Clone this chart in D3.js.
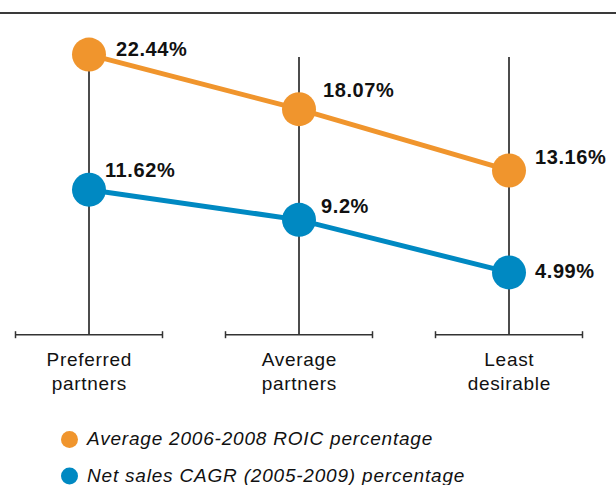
<!DOCTYPE html>
<html>
<head>
<meta charset="utf-8">
<script src="https://cdn.jsdelivr.net/npm/d3@7/dist/d3.min.js"></script>
<style>
  html, body { margin: 0; padding: 0; background: #fff; }
  svg { display: block; font-family: "Liberation Sans", Arial, Helvetica, sans-serif; }
</style>
</head>
<body>
<svg id="chart" width="616" height="485"></svg>
<script>
// ---- data ----
const categories = [["Preferred", "partners"], ["Average", "partners"], ["Least", "desirable"]];
const categoryKeys = ["Preferred partners", "Average partners", "Least desirable"];
const roicValues = [22.44, 18.07, 13.16];
const roicLabels = ["22.44%", "18.07%", "13.16%"];
const salesValues = [11.62, 9.2, 4.99];
const salesLabels = ["11.62%", "9.2%", "4.99%"];
const seriesNames = ["Average 2006-2008 ROIC percentage", "Net sales CAGR (2005-2009) percentage"];
const seriesColors = ["#F0952D", "#0089C2"];

// ---- layout (label offsets from dot centre) ----
const roicLabelOffsets = [[27, 1], [24, -12], [26, -6]];
const salesLabelOffsets = [[16, -13], [22, -7], [26, 6]];

const svg = d3.select("#chart");
const W = 616;

const x = d3.scalePoint().domain(categoryKeys).range([-16, 614]).padding(0.5);
const y = d3.scaleLinear().domain([0, 25]).range([334.7, 22.65]);
const step = x.step();
const baseY = y(0);
const plotTop = 57;

// top rule
svg.append("line").attr("x1", 0).attr("x2", W).attr("y1", 13).attr("y2", 13)
  .attr("stroke", "#3a3a3a").attr("stroke-width", 2);

// vertical category lines
svg.append("g").selectAll("line").data(categoryKeys).join("line")
  .attr("x1", d => x(d)).attr("x2", d => x(d))
  .attr("y1", plotTop).attr("y2", baseY)
  .attr("stroke", "#111").attr("stroke-width", 1.5);

// axis segments
const axisG = svg.append("g");
categoryKeys.forEach((k, i) => {
  const cx = x(k), hw = step * 0.35;
  axisG.append("line").attr("x1", cx - hw).attr("x2", cx + hw).attr("y1", baseY).attr("y2", baseY)
    .attr("stroke", "#333").attr("stroke-width", 1.5);
  [cx - hw, cx + hw].forEach(ex => axisG.append("line").attr("x1", ex).attr("x2", ex)
    .attr("y1", baseY - 3.5).attr("y2", baseY + 3.5).attr("stroke", "#333").attr("stroke-width", 1.5));
  const t = axisG.append("text").attr("text-anchor", "middle")
    .attr("font-size", 19).attr("letter-spacing", 0.7).attr("fill", "#111");
  categories[i].forEach((ln, j) => t.append("tspan").attr("x", cx + 0.35).attr("y", 366 + j * 24).text(ln));
});

// series
const series = [
  { values: roicValues, labels: roicLabels, offsets: roicLabelOffsets, color: seriesColors[0] },
  { values: salesValues, labels: salesLabels, offsets: salesLabelOffsets, color: seriesColors[1] }
];
const line = d3.line().x((d, i) => x(categoryKeys[i])).y(d => y(d));

series.forEach(s => {
  const g = svg.append("g");
  g.append("path").datum(s.values).attr("d", line)
    .attr("fill", "none").attr("stroke", s.color).attr("stroke-width", 5);
  g.selectAll("circle").data(s.values).join("circle")
    .attr("cx", (d, i) => x(categoryKeys[i])).attr("cy", d => y(d)).attr("r", 17)
    .attr("fill", s.color);
  g.selectAll("text").data(s.values).join("text")
    .attr("x", (d, i) => x(categoryKeys[i]) + s.offsets[i][0])
    .attr("y", (d, i) => y(d) + s.offsets[i][1])
    .attr("font-size", 20).attr("font-weight", "bold").attr("letter-spacing", 0.6)
    .attr("fill", "#111")
    .text((d, i) => s.labels[i]);
});

// legend
const leg = svg.append("g");
seriesNames.forEach((n, i) => {
  const ly = 439.5 + i * 36.5;
  leg.append("circle").attr("cx", 69.5).attr("cy", ly).attr("r", 8.5).attr("fill", seriesColors[i]);
  leg.append("text").attr("x", 87).attr("y", ly + 5.5).attr("font-size", 19)
    .attr("font-style", "italic").attr("letter-spacing", 0.8).attr("fill", "#111").text(n);
});
</script>
</body>
</html>
